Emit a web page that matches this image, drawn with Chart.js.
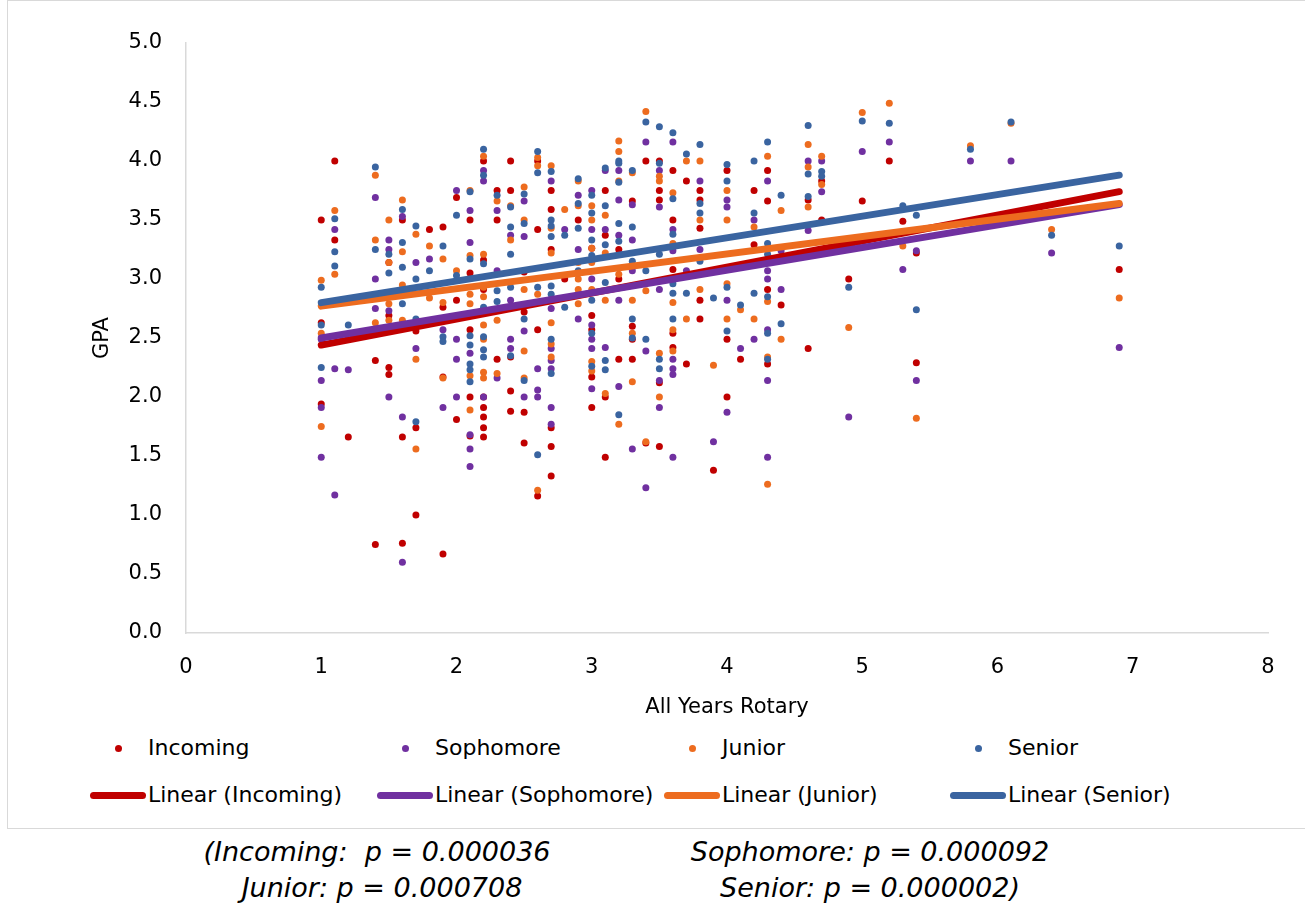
<!DOCTYPE html>
<html>
<head>
<meta charset="utf-8">
<script src="https://cdn.jsdelivr.net/npm/chart.js@4"></script>
<style>
  body { margin: 0; background: #fff; font-family: "DejaVu Sans", sans-serif; }
  #frame { position: absolute; left: 7px; top: 0; width: 1310px; height: 829px; border: 1px solid #d9d9d9; box-sizing: border-box; }
  #chart { position: absolute; left: 8px; top: 1px; }
  .legText { position: absolute; font-size: 22px; line-height: 26px; color: #000; white-space: nowrap; }
  .dot { position: absolute; width: 7px; height: 7px; border-radius: 50%; }
  .bar { position: absolute; height: 7px; border-radius: 4px; }
  .note { position: absolute; font-size: 27px; font-style: italic; line-height: 32px; color: #000; white-space: pre; transform: translateX(-50%); }
</style>
</head>
<body>
<div id="frame"></div>
<canvas id="chart" width="1290" height="722"></canvas>
<div id="legend"></div>
<div class="note" style="left:377px; top:836px;">(Incoming:  p = 0.000036</div>
<div class="note" style="left:870px; top:836px;">Sophomore: p = 0.000092</div>
<div class="note" style="left:382px; top:872px;">Junior: p = 0.000708</div>
<div class="note" style="left:870px; top:872px;">Senior: p = 0.000002)</div>

<script>
// each row: [x, gpa, gpa, ...]
const incomingCols = [
  [1.0, 3.50, 2.63, 1.94], [1.1, 4.00, 3.33], [1.2, 1.66], [1.4, 2.31, 0.75],
  [1.5, 3.14, 2.69, 2.25, 2.19], [1.6, 3.50, 1.66, 0.76], [1.7, 2.56, 1.74, 1.00],
  [1.8, 3.42], [1.9, 3.44, 2.76, 2.17, 0.67], [2.0, 3.69, 2.82, 1.81],
  [2.1, 3.50, 3.05, 2.57, 2.00, 1.67], [2.2, 4.00, 3.16, 2.91, 2.00, 1.91, 1.83, 1.74, 1.66],
  [2.3, 3.75, 3.50, 2.32], [2.4, 4.00, 3.75, 2.34, 2.05, 1.88], [2.5, 3.06, 2.72, 1.87, 1.61],
  [2.6, 4.00, 3.42, 2.57, 1.16], [2.7, 3.75, 3.59, 3.25, 1.74, 1.58, 1.33], [2.8, 3.00],
  [2.9, 3.50], [3.0, 3.26, 2.69, 2.57, 2.17, 1.91], [3.1, 3.75, 3.37, 2.00, 1.49],
  [3.2, 3.25, 3.00, 2.32], [3.3, 3.66, 2.60, 2.49, 2.32], [3.4, 4.00, 1.61],
  [3.5, 4.00, 3.75, 3.67, 2.12, 1.58], [3.6, 3.92, 3.50, 3.08, 2.54, 2.42], [3.7, 3.83, 2.28],
  [3.8, 3.75, 3.67, 3.43, 2.82, 2.66], [3.9, 1.38], [4.0, 3.92, 2.49, 2.00], [4.1, 2.32],
  [4.2, 3.75, 3.29], [4.3, 3.92, 3.66, 2.91, 2.28], [4.4, 2.78], [4.6, 3.67, 2.41],
  [4.7, 3.83, 3.50], [4.9, 3.00], [5.0, 3.66], [5.2, 4.00], [5.3, 3.49], [5.4, 3.22, 2.29],
  [6.9, 3.08]
];
const sophomoreCols = [
  [1.0, 2.49, 2.14, 1.91, 1.49], [1.1, 3.42, 2.24, 1.17], [1.2, 2.23], [1.4, 3.69, 3.00, 2.75],
  [1.5, 3.33, 3.25, 2.73, 2.00], [1.6, 3.53, 1.83, 0.60], [1.7, 3.14, 2.41], [1.8, 3.17],
  [1.9, 2.57, 1.91], [2.0, 3.75, 2.49, 2.32, 2.00], [2.1, 3.58, 3.31, 2.37, 1.68, 1.56, 1.41],
  [2.2, 3.92, 3.83, 2.00], [2.3, 3.58, 3.07, 2.16], [2.4, 3.37, 2.82, 2.49, 2.41],
  [2.5, 3.66, 3.36, 2.56, 2.00], [2.6, 2.24, 2.06, 2.00], [2.7, 3.83, 2.75, 2.41, 2.31, 2.24, 1.91, 1.77],
  [2.8, 3.42], [2.9, 3.71, 3.25, 2.66], [3.0, 3.75, 3.42, 3.00, 2.61, 2.49, 2.41, 2.07],
  [3.1, 3.92, 3.42, 2.42], [3.2, 3.92, 3.67, 3.37, 2.82, 2.09], [3.3, 3.63, 3.33, 3.07, 1.56],
  [3.4, 4.16, 2.39, 1.23], [3.5, 3.92, 3.61, 2.91, 2.14, 1.91], [3.6, 4.16, 3.42, 3.24, 2.32, 2.24, 2.19, 1.49],
  [3.7, 3.07], [3.8, 3.83, 3.25], [3.9, 1.62], [4.0, 3.67, 3.61, 2.82, 1.87], [4.1, 2.41],
  [4.2, 3.50, 2.49], [4.3, 3.83, 3.07, 3.00, 2.57, 2.14, 1.49], [4.4, 3.24, 2.91], [4.6, 4.00, 3.41],
  [4.7, 4.00, 3.74], [4.9, 1.83], [5.0, 4.08], [5.2, 4.16], [5.3, 3.08], [5.4, 3.24, 2.14],
  [5.8, 4.00], [6.1, 4.00], [6.4, 3.22], [6.9, 2.42]
];
const juniorCols = [
  [1.0, 2.99, 2.54, 1.75], [1.1, 3.58, 3.04], [1.4, 3.88, 3.33, 2.63], [1.5, 3.50, 3.14, 2.79, 2.65],
  [1.6, 3.67, 3.23, 2.95, 2.65], [1.7, 3.38, 2.32, 1.56], [1.8, 3.28, 2.84], [1.9, 3.17, 2.80, 2.16],
  [2.0, 3.07], [2.1, 3.75, 3.20, 2.87, 2.79, 2.18, 1.89], [2.2, 4.04, 3.21, 2.93, 2.85, 2.61, 2.49, 2.21, 2.16],
  [2.3, 3.66, 2.65, 2.20], [2.4, 3.62, 3.33], [2.5, 3.78, 3.50, 2.91, 2.39, 2.16], [2.6, 4.03, 3.96, 2.87, 1.21],
  [2.7, 3.96, 3.43, 3.22, 2.63, 2.45, 2.34], [2.8, 3.59], [2.9, 3.83, 3.62, 3.14, 3.00, 2.91, 2.79],
  [3.0, 3.62, 3.50, 3.26, 3.14, 2.91, 2.30, 2.22], [3.1, 3.54, 3.22, 2.82, 2.03],
  [3.2, 4.17, 4.08, 3.83, 3.04, 1.77], [3.3, 3.90, 2.82, 2.54, 2.13], [3.4, 4.42, 2.90, 1.62],
  [3.5, 3.87, 3.83, 2.37, 2.00], [3.6, 3.73, 3.30, 2.80, 2.57, 2.39], [3.7, 4.00, 2.66],
  [3.8, 4.00, 3.50, 2.91], [3.9, 2.27], [4.0, 3.75, 3.50, 2.96, 2.66], [4.1, 2.74], [4.2, 3.44, 2.66],
  [4.3, 4.04, 2.81, 2.34, 1.26], [4.4, 3.58, 2.49], [4.6, 4.14, 3.95, 3.61], [4.7, 4.04, 3.80],
  [4.9, 2.59], [5.0, 4.41], [5.2, 4.49], [5.3, 3.28], [5.4, 1.82], [5.8, 4.13], [6.1, 4.32],
  [6.4, 3.42], [6.9, 2.84]
];
const seniorCols = [
  [1.0, 2.93, 2.61, 2.25], [1.1, 3.51, 3.23, 3.11], [1.2, 2.61], [1.4, 3.95, 3.25], [1.5, 3.21, 3.05],
  [1.6, 3.59, 3.31, 3.10, 2.79], [1.7, 3.45, 3.00, 2.66, 1.79], [1.8, 3.07], [1.9, 3.28, 2.51, 2.47],
  [2.0, 3.54, 3.03], [2.1, 3.74, 3.17, 2.52, 2.44, 2.28, 2.23, 2.13], [2.2, 4.10, 3.88, 3.13, 2.76, 2.51, 2.40, 2.34],
  [2.3, 3.71, 2.90, 2.81], [2.4, 3.61, 3.44, 3.21, 2.93, 2.35], [2.5, 3.72, 3.47, 2.66, 2.14],
  [2.6, 4.08, 3.90, 2.93, 1.51], [2.7, 3.91, 3.50, 3.45, 3.36, 2.94, 2.87, 2.49, 2.20], [2.8, 3.37, 2.76],
  [2.9, 3.85, 3.64, 3.43, 3.07], [3.0, 3.71, 3.56, 3.33, 3.20, 2.82, 2.54, 2.26],
  [3.1, 3.94, 3.62, 3.29, 2.97, 2.31, 2.23], [3.2, 4.00, 3.98, 3.82, 3.47, 3.32, 1.85],
  [3.3, 3.92, 3.44, 3.15, 2.66, 2.50], [3.4, 4.33, 3.07, 2.49], [3.5, 4.29, 3.98, 3.21, 2.32, 2.24],
  [3.6, 4.24, 3.68, 3.38, 2.96, 2.88, 2.66], [3.7, 4.06, 2.88], [3.8, 4.14, 3.64, 3.56, 3.15], [3.9, 2.84],
  [4.0, 3.97, 3.83, 2.93, 2.56], [4.1, 2.78], [4.2, 4.00, 3.56, 2.88], [4.3, 4.16, 3.30, 3.21, 2.85, 2.54, 2.32],
  [4.4, 3.71, 2.62], [4.6, 4.30, 3.89, 3.70], [4.7, 3.91, 3.87], [4.9, 2.93], [5.0, 4.34], [5.2, 4.32],
  [5.3, 3.62], [5.4, 3.54, 2.74], [5.8, 4.10], [6.1, 4.33], [6.4, 3.37], [6.9, 3.28]
];

// linear trend lines at x = 1 and x = 6.9
const trendX = [1, 6.9];
const trendIncoming = [2.44, 3.74];
const trendSophomore = [2.50, 3.63];
const trendJunior = [2.77, 3.64];
const trendSenior = [2.80, 3.88];

const seriesNames = ['Incoming', 'Sophomore', 'Junior', 'Senior'];
const seriesColors = ['#C00000', '#7030A0', '#ED6C1F', '#3A64A0'];
const xTicks = [0, 1, 2, 3, 4, 5, 6, 7, 8];
const yTicks = [0, 0.5, 1, 1.5, 2, 2.5, 3, 3.5, 4, 4.5, 5];

function toPoints(cols) {
  const pts = [];
  cols.forEach(c => {
    for (let i = 1; i < c.length; i++) pts.push({ x: c[0], y: c[i] });
  });
  return pts;
}
function toLine(ys) {
  return trendX.map((x, i) => ({ x: x, y: ys[i] }));
}

const allCols = [incomingCols, sophomoreCols, juniorCols, seniorCols];
const allTrends = [trendIncoming, trendSophomore, trendJunior, trendSenior];

const datasets = [];
allCols.forEach((cols, i) => {
  datasets.push({
    type: 'scatter',
    label: seriesNames[i],
    data: toPoints(cols),
    backgroundColor: seriesColors[i],
    borderWidth: 0,
    pointRadius: 3.5,
    order: 7 - i
  });
});
allTrends.forEach((ys, i) => {
  datasets.push({
    type: 'line',
    label: 'Linear (' + seriesNames[i] + ')',
    data: toLine(ys),
    borderColor: seriesColors[i],
    borderWidth: 7,
    borderCapStyle: 'round',
    pointRadius: 0,
    fill: false,
    order: 3 - i
  });
});

const tickFont = { family: 'DejaVu Sans', size: 21 };

new Chart(document.getElementById('chart'), {
  type: 'scatter',
  data: { datasets: datasets },
  options: {
    responsive: false,
    animation: false,
    layout: { padding: { left: 80, right: 30, top: 42, bottom: 0 } },
    plugins: { legend: { display: false }, tooltip: { enabled: false } },
    scales: {
      x: {
        type: 'linear',
        min: 0, max: 8,
        afterBuildTicks: s => { s.ticks = xTicks.map(v => ({ value: v })); },
        afterFit: s => { s.height = 90; },
        grid: { display: false, drawTicks: false },
        border: { display: true, color: '#d9d9d9', width: 1.5 },
        ticks: { color: '#000', font: tickFont, padding: 22 },
        title: { display: true, text: 'All Years Rotary', color: '#000', font: tickFont, padding: { top: 0, bottom: 3 } }
      },
      y: {
        type: 'linear',
        min: 0, max: 5,
        afterBuildTicks: s => { s.ticks = yTicks.map(v => ({ value: v })); },
        afterFit: s => { s.width = 98; },
        grid: { display: false, drawTicks: false },
        border: { display: true, color: '#d9d9d9', width: 1.5 },
        ticks: { color: '#000', font: tickFont, padding: 24, callback: v => v.toFixed(1) },
        title: { display: true, text: 'GPA', color: '#000', font: tickFont, padding: { top: 2, bottom: 0 } }
      }
    }
  }
});

// legend in four columns, two rows
const legendStarts = [148, 435, 722, 1008];
const legend = document.getElementById('legend');
seriesNames.forEach((name, i) => {
  const x0 = legendStarts[i];
  legend.insertAdjacentHTML('beforeend',
    `<div class="dot" style="left:${x0 - 33}px; top:745px; background:${seriesColors[i]}"></div>` +
    `<div class="legText" style="left:${x0}px; top:735px;">${name}</div>` +
    `<div class="bar" style="left:${x0 - 58}px; top:792px; width:56px; background:${seriesColors[i]}"></div>` +
    `<div class="legText" style="left:${x0}px; top:782px;">Linear (${name})</div>`);
});
</script>
</body>
</html>
